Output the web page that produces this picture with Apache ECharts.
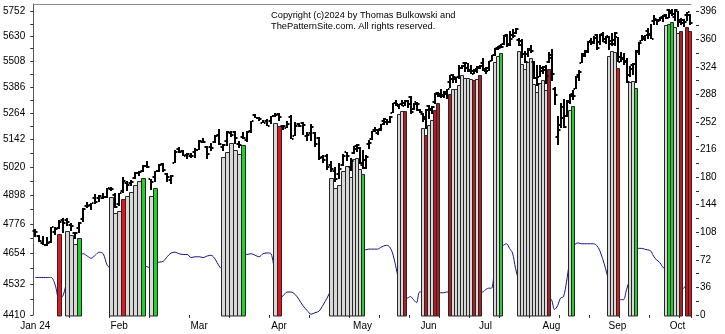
<!DOCTYPE html>
<html>
<head>
<meta charset="utf-8">
<script src="https://cdn.jsdelivr.net/npm/echarts@6/dist/echarts.min.js"></script>
<style>
html,body{margin:0;padding:0;background:#fff;}
#chart{width:725px;height:334px;}
</style>
</head>
<body>
<div id="chart"></div>
<script>
// S&P 500 daily sessions, 2 Jan – 7 Oct 2024
const tradingDays = [
  '2024-01-02','2024-01-03','2024-01-04','2024-01-05','2024-01-08','2024-01-09','2024-01-10','2024-01-11','2024-01-12','2024-01-16','2024-01-17','2024-01-18','2024-01-19','2024-01-22','2024-01-23','2024-01-24','2024-01-25','2024-01-26','2024-01-29','2024-01-30','2024-01-31',
  '2024-02-01','2024-02-02','2024-02-05','2024-02-06','2024-02-07','2024-02-08','2024-02-09','2024-02-12','2024-02-13','2024-02-14','2024-02-15','2024-02-16','2024-02-20','2024-02-21','2024-02-22','2024-02-23','2024-02-26','2024-02-27','2024-02-28','2024-02-29',
  '2024-03-01','2024-03-04','2024-03-05','2024-03-06','2024-03-07','2024-03-08','2024-03-11','2024-03-12','2024-03-13','2024-03-14','2024-03-15','2024-03-18','2024-03-19','2024-03-20','2024-03-21','2024-03-22','2024-03-25','2024-03-26','2024-03-27','2024-03-28',
  '2024-04-01','2024-04-02','2024-04-03','2024-04-04','2024-04-05','2024-04-08','2024-04-09','2024-04-10','2024-04-11','2024-04-12','2024-04-15','2024-04-16','2024-04-17','2024-04-18','2024-04-19','2024-04-22','2024-04-23','2024-04-24','2024-04-25','2024-04-26','2024-04-29','2024-04-30',
  '2024-05-01','2024-05-02','2024-05-03','2024-05-06','2024-05-07','2024-05-08','2024-05-09','2024-05-10','2024-05-13','2024-05-14','2024-05-15','2024-05-16','2024-05-17','2024-05-20','2024-05-21','2024-05-22','2024-05-23','2024-05-24','2024-05-28','2024-05-29','2024-05-30','2024-05-31',
  '2024-06-03','2024-06-04','2024-06-05','2024-06-06','2024-06-07','2024-06-10','2024-06-11','2024-06-12','2024-06-13','2024-06-14','2024-06-17','2024-06-18','2024-06-20','2024-06-21','2024-06-24','2024-06-25','2024-06-26','2024-06-27','2024-06-28',
  '2024-07-01','2024-07-02','2024-07-03','2024-07-05','2024-07-08','2024-07-09','2024-07-10','2024-07-11','2024-07-12','2024-07-15','2024-07-16','2024-07-17','2024-07-18','2024-07-19','2024-07-22','2024-07-23','2024-07-24','2024-07-25','2024-07-26','2024-07-29','2024-07-30','2024-07-31',
  '2024-08-01','2024-08-02','2024-08-05','2024-08-06','2024-08-07','2024-08-08','2024-08-09','2024-08-12','2024-08-13','2024-08-14','2024-08-15','2024-08-16','2024-08-19','2024-08-20','2024-08-21','2024-08-22','2024-08-23','2024-08-26','2024-08-27','2024-08-28','2024-08-29','2024-08-30',
  '2024-09-03','2024-09-04','2024-09-05','2024-09-06','2024-09-09','2024-09-10','2024-09-11','2024-09-12','2024-09-13','2024-09-16','2024-09-17','2024-09-18','2024-09-19','2024-09-20','2024-09-23','2024-09-24','2024-09-25','2024-09-26','2024-09-27','2024-09-30',
  '2024-10-01','2024-10-02','2024-10-03','2024-10-04','2024-10-07'
];

const priceOpen = [
  4745,4726,4697,4690,4703,4741,4760,4793,4792,4772,4740,4760,4796,4853,4856,4888,4886,4888,4892,4925,4900,
  4861,4917,4951,4951,4974,4995,5004,5026,4968,4977,5003,5032,4989,4964,5039,5101,5093,5075,5068,5085,
  5098,5131,5110,5109,5132,5165,5111,5134,5174,5176,5123,5154,5139,5182,5254,5242,5220,5229,5226,5248,
  5258,5204,5194,5244,5159,5212,5217,5160,5173,5171,5149,5065,5069,5031,5005,4988,5028,5085,5019,5084,5114,5103,
  5030,5050,5122,5143,5188,5173,5190,5225,5234,5221,5264,5311,5303,5305,5298,5319,5340,5281,5315,5278,5259,5244,
  5297,5278,5314,5357,5344,5341,5353,5409,5441,5424,5431,5477,5500,5500,5460,5461,5460,5473,5499,
  5471,5461,5507,5537,5572,5584,5591,5635,5591,5638,5644,5610,5608,5544,5545,5566,5505,5428,5433,5477,5479,5505,
  5537,5376,5152,5207,5293,5252,5313,5354,5376,5442,5501,5531,5557,5603,5603,5637,5602,5639,5602,5629,5608,5612,
  5624,5506,5524,5507,5443,5490,5496,5557,5604,5615,5655,5641,5703,5709,5711,5727,5733,5762,5755,5727,
  5758,5698,5696,5737,5737
];
const priceHigh = [
  4755,4729,4726,4721,4764,4765,4791,4799,4802,4782,4744,4785,4842,4868,4866,4903,4898,4906,4929,4932,4907,
  4906,4975,4958,4963,5000,5001,5030,5049,4970,5002,5033,5038,4994,4984,5094,5111,5098,5081,5081,5105,
  5140,5149,5114,5128,5165,5189,5124,5180,5180,5180,5136,5175,5180,5225,5261,5247,5230,5236,5249,5264,
  5263,5208,5228,5256,5222,5219,5224,5178,5211,5176,5152,5075,5077,5046,5019,5038,5076,5089,5058,5114,5124,5110,
  5096,5073,5140,5181,5200,5191,5215,5239,5238,5250,5311,5325,5305,5325,5324,5323,5341,5311,5315,5282,5264,5281,
  5302,5298,5355,5362,5376,5366,5376,5441,5447,5432,5488,5488,5506,5500,5490,5472,5483,5490,5524,
  5479,5510,5539,5570,5583,5590,5635,5642,5655,5667,5670,5622,5615,5555,5570,5586,5509,5491,5488,5487,5489,5551,
  5566,5383,5250,5312,5330,5326,5351,5372,5436,5464,5546,5563,5608,5620,5633,5643,5642,5651,5631,5632,5646,5651,
  5626,5552,5547,5522,5484,5501,5560,5600,5637,5636,5670,5690,5733,5716,5725,5735,5741,5767,5765,5765,
  5758,5720,5714,5753,5739
];
const priceLow = [
  4722,4700,4687,4683,4699,4730,4757,4740,4769,4748,4715,4740,4785,4844,4836,4862,4870,4882,4887,4917,4845,
  4853,4907,4918,4937,4969,4983,4999,5017,4920,4956,4999,4999,4955,4946,5039,5081,5068,5057,5061,5061,
  5094,5127,5056,5092,5128,5117,5091,5114,5155,5123,5105,5145,5132,5172,5241,5229,5216,5203,5213,5246,
  5229,5184,5194,5146,5157,5198,5161,5138,5138,5108,5053,5039,5007,4998,4953,4969,5027,5048,5001,5080,5086,5035,
  5013,5011,5102,5142,5179,5165,5182,5209,5209,5220,5263,5296,5284,5298,5297,5287,5257,5278,5272,5263,5222,5191,
  5234,5257,5303,5336,5331,5332,5328,5379,5403,5403,5421,5471,5455,5455,5448,5446,5451,5470,5460,
  5446,5460,5507,5531,5562,5574,5587,5576,5583,5619,5639,5584,5523,5497,5530,5550,5424,5390,5430,5445,5398,5500,
  5411,5302,5120,5193,5195,5246,5303,5325,5376,5412,5501,5530,5549,5585,5592,5560,5585,5602,5593,5561,5583,5581,
  5505,5504,5491,5402,5434,5442,5406,5536,5604,5604,5614,5615,5687,5683,5703,5698,5714,5720,5730,5704,
  5674,5683,5674,5703,5683
];
const priceClose = [
  4743,4705,4689,4697,4764,4757,4783,4780,4784,4766,4739,4780,4840,4851,4865,4868,4894,4891,4928,4925,4846,
  4906,4959,4943,4954,4995,4998,5027,5022,4953,5001,5030,5006,4976,4982,5087,5089,5070,5078,5069,5096,
  5137,5131,5079,5105,5157,5124,5117,5175,5165,5150,5117,5149,5179,5225,5241,5234,5218,5204,5248,5254,
  5243,5205,5211,5147,5204,5202,5209,5161,5199,5123,5061,5051,5022,5011,4967,5010,5070,5071,5048,5100,5116,5036,
  5018,5064,5128,5181,5187,5187,5214,5223,5221,5247,5308,5297,5303,5308,5321,5307,5268,5305,5306,5267,5236,5278,
  5283,5291,5354,5353,5347,5361,5375,5421,5433,5431,5473,5487,5473,5465,5448,5469,5478,5483,5460,
  5475,5509,5537,5567,5572,5577,5633,5585,5615,5631,5667,5588,5545,5505,5564,5555,5427,5399,5459,5464,5436,5522,
  5446,5347,5186,5240,5199,5319,5344,5344,5434,5455,5543,5554,5608,5597,5621,5571,5635,5616,5626,5592,5592,5648,
  5528,5520,5503,5408,5471,5496,5554,5596,5626,5634,5634,5618,5714,5703,5718,5732,5722,5745,5738,5762,
  5709,5709,5699,5751,5696
];

// Oscillator plotted against the right-hand scale
const oscillator = [
  49,49,49,49,49,39,20,26,46,59,69,77,80,77,74,78,82,80,65,59,39,
  33,39,46,52,56,61,65,63,61,67,69,70,76,81,82,80,79,79,75,76,
  76,75,77,78,73,64,59,61,69,74,78,80,79,80,78,76,80,81,80,52,
  22,25,30,30,27,20,12,6,1,3,5,13,22,33,46,56,69,74,78,82,85,85,
  85,85,86,86,86,86,88,90,91,89,81,65,46,26,20,22,24,20,16,30,30,30,
  30,30,30,30,29,29,30,30,30,30,30,30,30,30,30,34,34,31,30,
  33,35,35,59,78,87,91,93,87,81,61,46,33,26,22,20,20,20,20,20,20,22,
  20,7,12,22,24,43,69,85,93,94,93,93,93,93,93,91,85,74,61,46,33,26,
  26,20,20,33,46,65,78,87,87,86,85,84,77,72,69,63,59,52,46,39,
  35,33,35,39,42
];

// Signal columns: session, top (price scale), kind (n = neutral, r = red, d = dark red, g = green)
const signalDays = [
  '2024-01-10','2024-01-12','2024-01-16','2024-01-17','2024-01-18',
  '2024-01-30','2024-01-31','2024-02-01','2024-02-02','2024-02-05','2024-02-06','2024-02-07','2024-02-08','2024-02-09','2024-02-13','2024-02-14',
  '2024-03-11','2024-03-12','2024-03-13','2024-03-14','2024-03-15','2024-03-18',
  '2024-03-28','2024-04-01',
  '2024-04-18','2024-04-19','2024-04-22','2024-04-23','2024-04-24','2024-04-25','2024-04-26','2024-04-29','2024-04-30','2024-05-01',
  '2024-05-17','2024-05-20','2024-05-21',
  '2024-05-30','2024-05-31','2024-06-03','2024-06-04','2024-06-05','2024-06-06',
  '2024-06-12','2024-06-13','2024-06-14','2024-06-17','2024-06-18','2024-06-20','2024-06-21','2024-06-24','2024-06-25','2024-06-26','2024-06-27',
  '2024-07-05','2024-07-08','2024-07-09',
  '2024-07-17','2024-07-18','2024-07-19','2024-07-22','2024-07-23','2024-07-24','2024-07-25','2024-07-26','2024-07-29','2024-07-30','2024-07-31',
  '2024-08-09','2024-08-12',
  '2024-08-28','2024-08-29','2024-08-30','2024-09-03',
  '2024-09-09','2024-09-10','2024-09-11',
  '2024-09-25','2024-09-26','2024-09-27','2024-09-30','2024-10-01','2024-10-02','2024-10-04','2024-10-07'
];
const signalTop = [
  4733,4745,4730,4691,4716,
  4892,4821,4829,4882,4893,4912,4944,4958,4974,4895,4931,
  5066,5088,5129,5097,5079,5119,
  5220,5203,
  4973,4928,4944,5002,5023,4976,5055,5061,5010,4988,
  5258,5272,5271,
  5196,5165,5208,5231,5276,5309,
  5352,5376,5376,5394,5444,5428,5428,5421,5419,5424,5443,
  5503,5534,5546,
  5556,5495,5470,5502,5522,5397,5363,5403,5418,5371,5472,
  5276,5298,
  5533,5555,5553,5477,
  5407,5415,5379,
  5685,5691,5701,5675,5646,5655,5674,5655
];
const signalKind = [
  'r','n','n','n','g',
  'n','n','n','r','n','n','n','n','g','n','g',
  'n','n','n','n','n','g',
  'n','r',
  'n','n','n','n','n','n','n','n','n','g',
  'n','n','d',
  'n','d','n','n','d','d',
  'd','n','n','n','n','n','n','n','d','n','d',
  'n','n','g',
  'n','n','n','n','n','n','n','n','n','n','d',
  'n','g',
  'n','n','n','r',
  'n','n','g',
  'n','g','g','n','n','d','d','r'
];

const monthStarts = ['2024-01-02','2024-02-01','2024-03-01','2024-04-01','2024-05-01','2024-06-03','2024-07-01','2024-08-01','2024-09-03','2024-10-01'];
const monthNames  = ['Jan 24','Feb','Mar','Apr','May','Jun','Jul','Aug','Sep','Oct'];

const priceLabels = [4410,4532,4654,4776,4898,5020,5142,5264,5386,5508,5630,5752];
const priceMinor  = [4471,4593,4715,4837,4959,5081,5203,5325,5447,5569,5691];
const oscLabels   = [0,36,72,108,144,180,216,252,288,324,360,396];
const oscMinor    = [18,54,90,126,162,198,234,270,306,342,378];

// ---- layout: the first sessions are spaced wider than the later ones
const SPLIT = 79;             // first session of the right-hand panel
const PRICE_MIN = 4410, PRICE_MAX = 5791;
const OSC_MAX = 406;
const LEFT = 33, TOP = 4, BOTTOM = 19;
const STEP1 = 4, STEP2 = 3;
const width1 = SPLIT * STEP1;
const width2 = (tradingDays.length - SPLIT) * STEP2;

const kindColor = { n: '#d8d8d8', r: '#e8141a', d: '#b41e22', g: '#22d02a' };
const monthMap = {};
monthStarts.forEach((d, k) => { monthMap[d] = monthNames[k]; });
const dayIndex = {};
tradingDays.forEach((d, k) => { dayIndex[d] = k; });

function slice(arr, a, b) { return arr.slice(a, b); }
function ohlcData(a, b) {
  const out = [];
  for (let k = a; k < b; k++) out.push([k - a, priceOpen[k], priceHigh[k], priceLow[k], priceClose[k]]);
  return out;
}
function signalData(a, b) {
  const out = [];
  signalDays.forEach((d, k) => {
    const idx = dayIndex[d];
    if (idx >= a && idx < b) out.push({ value: [idx - a, signalTop[k]], kind: signalKind[k] });
  });
  return out;
}

function ohlcRender(params, api) {
  const i = api.value(0);
  const pH = api.coord([i, api.value(2)]);
  const pL = api.coord([i, api.value(3)]);
  const pO = api.coord([i, api.value(1)]);
  const pC = api.coord([i, api.value(4)]);
  const band = api.size([1, 0])[0];
  const x = Math.round(pH[0]);
  const tick = band >= 4 ? 2 : 1.5;
  return {
    type: 'group',
    children: [
      { type: 'rect', shape: { x: x - 1, y: Math.round(pH[1]), width: 2, height: Math.max(2, Math.round(pL[1]) - Math.round(pH[1])) }, style: { fill: '#000' } },
      { type: 'rect', shape: { x: x - 1 - tick, y: Math.round(pO[1]) - 1, width: tick, height: 2 }, style: { fill: '#000' } },
      { type: 'rect', shape: { x: x + 1, y: Math.round(pC[1]) - 1, width: tick, height: 2 }, style: { fill: '#000' } }
    ]
  };
}

function makeSignalRender(data) {
  return function (params, api) {
    const i = api.value(0);
    const top = api.coord([i, api.value(1)]);
    const base = api.coord([i, PRICE_MIN]);
    const band = api.size([1, 0])[0];
    const x0 = Math.round(top[0] - band / 2) + 0.5;
    const x1 = Math.round(top[0] + band / 2) + 0.5;
    const y0 = Math.round(top[1]) + 0.5;
    return {
      type: 'rect',
      shape: { x: x0, y: y0, width: x1 - x0, height: Math.round(base[1]) - y0 + 1 },
      style: { fill: kindColor[data[params.dataIndex].kind], stroke: '#262626', lineWidth: 1 }
    };
  };
}

const FONT = '"Liberation Sans", Arial, sans-serif';
const cats1 = slice(tradingDays, 0, SPLIT);
const cats2 = slice(tradingDays, SPLIT, tradingDays.length);
const sig1 = signalData(0, SPLIT);
const sig2 = signalData(SPLIT, tradingDays.length);

function bottomAxis(gridIndex, cats, offsetIdx) {
  return {
    type: 'category', gridIndex, data: cats, position: 'bottom', boundaryGap: true,
    axisLine: { show: false },
    axisTick: { show: true, length: 3, lineStyle: { color: '#333' },
      interval: (idx) => (idx + offsetIdx) % 10 === 9 },
    axisLabel: { show: true, margin: 6, color: '#000', fontFamily: FONT, fontSize: 10,
      interval: (idx, val) => monthMap[val] !== undefined,
      formatter: (val) => monthMap[val] || '' },
    splitLine: { show: false }
  };
}
function topAxis(gridIndex, cats) {
  return {
    type: 'category', gridIndex, data: cats, position: 'top', boundaryGap: true,
    axisLine: { show: true, lineStyle: { color: '#8a8a8a', width: 1 } },
    axisTick: { show: false }, axisLabel: { show: false }, splitLine: { show: false }
  };
}

const option = {
  animation: false,
  backgroundColor: '#fff',
  grid: [
    { left: LEFT, top: TOP, width: width1, bottom: BOTTOM },
    { left: LEFT + width1, top: TOP, width: width2, bottom: BOTTOM }
  ],
  xAxis: [
    bottomAxis(0, cats1, 0),
    bottomAxis(1, cats2, SPLIT),
    topAxis(0, cats1),
    topAxis(1, cats2)
  ],
  yAxis: [
    { type: 'log', logBase: 10, gridIndex: 0, min: PRICE_MIN, max: PRICE_MAX, position: 'left',
      axisLine: { show: true, lineStyle: { color: '#555' } },
      axisTick: { show: true, length: 3, lineStyle: { color: '#333' }, customValues: priceLabels.concat(priceMinor) },
      axisLabel: { show: true, margin: 8, color: '#000', fontFamily: FONT, fontSize: 10, customValues: priceLabels,
        formatter: (v) => String(Math.round(v)) },
      splitLine: { show: false } },
    { type: 'value', gridIndex: 0, min: 0, max: OSC_MAX, show: false },
    { type: 'log', logBase: 10, gridIndex: 1, min: PRICE_MIN, max: PRICE_MAX, show: false },
    { type: 'value', gridIndex: 1, min: 0, max: OSC_MAX, position: 'right', offset: 5,
      axisLine: { show: false },
      axisTick: { show: true, length: 3, lineStyle: { color: '#333' }, customValues: oscLabels.concat(oscMinor) },
      axisLabel: { show: true, margin: 4, color: '#000', fontFamily: FONT, fontSize: 10, customValues: oscLabels },
      splitLine: { show: false } }
  ],
  graphic: [
    { type: 'text', left: 271, top: 10, z: 100,
      style: { text: 'Copyright (c)2024 by Thomas Bulkowski and\nThePatternSite.com. All rights reserved.',
        font: '9.3px ' + FONT, fill: '#000', lineHeight: 11 } }
  ],
  series: [
    { type: 'line', xAxisIndex: 0, yAxisIndex: 1, data: slice(oscillator, 0, SPLIT), symbol: 'none',
      smooth: 0.3, lineStyle: { color: '#14148c', width: 1 }, z: 1, silent: true },
    { type: 'line', xAxisIndex: 1, yAxisIndex: 3, data: slice(oscillator, SPLIT, tradingDays.length), symbol: 'none',
      smooth: 0.3, lineStyle: { color: '#14148c', width: 1 }, z: 1, silent: true },
    { type: 'custom', xAxisIndex: 0, yAxisIndex: 0, data: sig1, renderItem: makeSignalRender(sig1), z: 2, silent: true },
    { type: 'custom', xAxisIndex: 1, yAxisIndex: 2, data: sig2, renderItem: makeSignalRender(sig2), z: 2, silent: true },
    { type: 'custom', xAxisIndex: 0, yAxisIndex: 0, data: ohlcData(0, SPLIT), renderItem: ohlcRender, z: 3, silent: true },
    { type: 'custom', xAxisIndex: 1, yAxisIndex: 2, data: ohlcData(SPLIT, tradingDays.length), renderItem: ohlcRender, z: 3, silent: true }
  ]
};

const chart = echarts.init(document.getElementById('chart'), null, { renderer: 'canvas' });
chart.setOption(option);
</script>
</body>
</html>
